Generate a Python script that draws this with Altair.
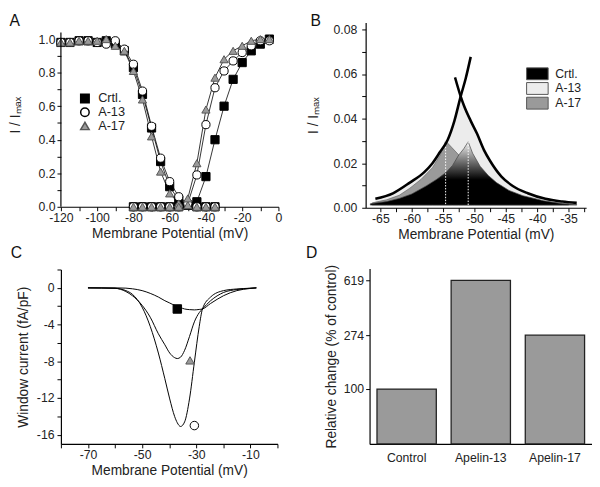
import altair as alt
import pandas as pd

FONT = "Liberation Sans"
SERIES = ["Crtl.", "A-13", "A-17"]

# ---------------- Panel A : steady-state activation / inactivation ----------------
a_v_inact = [-120, -115, -110, -105, -100, -95, -90, -85, -80, -75, -70, -65, -60, -55, -50, -45, -40, -35]
a_crtl_inact = [0.98, 0.98, 0.99, 0.99, 0.98, 0.99, 0.97, 0.93, 0.83, 0.67, 0.47, 0.27, 0.12, 0.04, 0.01, 0.0, 0.0, 0.0]
a_a13_inact = [0.98, 0.98, 0.99, 0.99, 0.98, 0.97, 0.99, 0.94, 0.85, 0.69, 0.48, 0.29, 0.15, 0.06, 0.02, 0.0, 0.0, 0.0]
a_a17_inact = [0.98, 0.98, 0.99, 0.99, 0.99, 1.0, 0.96, 0.93, 0.81, 0.64, 0.42, 0.21, 0.08, 0.02, 0.01, 0.0, 0.0, 0.0]
a_v_act = [-80, -75, -70, -65, -60, -55, -50, -45, -40, -35, -30, -25, -20, -15, -10, -5]
a_crtl_act = [0, 0, 0, 0, 0, 0, 0.01, 0.03, 0.18, 0.40, 0.60, 0.76, 0.86, 0.93, 0.97, 1.0]
a_a13_act = [0, 0, 0, 0, 0, 0, 0.02, 0.19, 0.49, 0.71, 0.81, 0.87, 0.92, 0.96, 0.99, 0.99]
a_a17_act = [0, 0, 0, 0, 0, 0, 0.05, 0.26, 0.58, 0.77, 0.88, 0.93, 0.96, 0.99, 1.0, 1.0]
a_axis_left = -120
a_axis_top = 1.04

# ---------------- Panel B : window region (zoomed) ----------------
b_act_v = [-65.8, -63, -60.3, -58, -56.7, -55.5, -54.3, -53.2, -52.2, -51.4, -50.6]
b_act_y = [0.004, 0.0065, 0.0113, 0.016, 0.020, 0.025, 0.0303, 0.039, 0.050, 0.058, 0.0677]
b_inact_v = [-53.1, -52.2, -51.7, -50.6, -49.6, -48.5, -47.5, -45.7, -43.9, -41.5, -38.7, -36, -33.7]
b_inact_y = [0.0585, 0.050, 0.046, 0.039, 0.0333, 0.026, 0.021, 0.014, 0.0098, 0.0065, 0.004, 0.0028, 0.0022]
b_a17_v = [-66.3, -64, -62, -60.3, -58.5, -56.7, -55.5, -54.6, -53.6, -52.5, -51.5, -50, -48, -45, -40, -35]
b_a17_y = [0.0022, 0.0036, 0.0056, 0.0088, 0.0128, 0.018, 0.0235, 0.030, 0.027, 0.0237, 0.019, 0.014, 0.010, 0.006, 0.003, 0.0018]
b_crtl_v = [-66.6, -64, -62, -60, -57.7, -56, -54.6, -53.5, -52.5, -51.7, -51.0, -50.3, -49.1, -47.8, -46.5, -44.5, -42.3, -39, -36, -33.7]
b_crtl_y = [0.0018, 0.0028, 0.0042, 0.0062, 0.0098, 0.0128, 0.0157, 0.019, 0.0237, 0.0265, 0.0296, 0.0245, 0.0186, 0.0145, 0.0113, 0.0078, 0.0054, 0.0032, 0.0018, 0.0014]
b_base = 0.0012
b_peak_v = [-54.6, -51.0]
b_peak_y = [0.030, 0.0296]
b_cross_v = -52.2

# ---------------- Panel C : window current ----------------
c_v = [-70, -60, -56, -53.6, -50, -47, -44, -41.6, -39.8, -38, -37, -35.8, -34.3, -32.5, -30.7, -28.9, -27.7, -24.7, -19.9, -15, -10.2, -7.8]
c_crtl = [0, 0, -0.03, -0.1, -0.3, -0.6, -1.0, -1.4, -1.65, -1.9, -2.0, -2.15, -2.3, -2.37, -2.4, -2.35, -2.3, -1.7, -0.85, -0.3, -0.07, 0]
c_a13 = [0, -0.05, -0.3, -0.7, -2.1, -4.2, -7.1, -9.9, -12.1, -14.0, -14.7, -15.1, -14.6, -12.1, -8.1, -4.2, -2.3, -1.0, -0.3, -0.12, -0.04, 0]
c_a17 = [0, -0.05, -0.4, -0.85, -1.9, -3.2, -5.0, -6.2, -7.1, -7.6, -7.7, -7.55, -6.8, -5.3, -3.7, -2.7, -2.3, -1.4, -0.5, -0.18, -0.05, 0]
c_mark_v = [-37.0, -30.7, -32.3]
c_mark_y = [-2.3, -15.0, -7.9]

# ---------------- Panel D : relative change ----------------
d_cat = ["Control", "Apelin-13", "Apelin-17"]
d_val = [100, 619, 274]
d_ticks = [100, 274, 619]

# =============================================================================
def label_every(step, fmt=None):
    cond = f"abs(datum.value/{step} - round(datum.value/{step})) < 1e-6"
    if fmt:
        return f"{cond} ? format(datum.value, '{fmt}') : ''"
    return f"{cond} ? '' + datum.value : ''"


def frange(a, b, s):
    out, k = [], 0
    while a + k * s <= b + 1e-9:
        out.append(round(a + k * s, 6))
        k += 1
    return out


def letter(t, offset, dx):
    return alt.TitleParams(t, anchor="start", fontSize=16, fontWeight="normal", font=FONT,
                           offset=offset, dx=dx, color="#111111")


marker_shapes = ["square", "circle", "triangle-up"]
marker_fill = ["black", "white", "#9a9a9a"]
marker_stroke = ["black", "black", "#555555"]
LAB = 12.5
TIT = 14

# ---- A ----
rows = []
for s, yi, ya in zip(SERIES, [a_crtl_inact, a_a13_inact, a_a17_inact], [a_crtl_act, a_a13_act, a_a17_act]):
    for v, y in zip(a_v_inact, yi):
        rows.append(dict(series=s, kind="inact", v=v, y=y))
    for v, y in zip(a_v_act, ya):
        rows.append(dict(series=s, kind="act", v=v, y=y))
dfA = pd.DataFrame(rows)

scAx = alt.Scale(domain=[-120, 0], nice=False)
scAy = alt.Scale(domain=[0, 1.0985], nice=False)
xA = alt.X("v:Q", scale=scAx,
           axis=alt.Axis(values=frange(-120, 0, 10), labelExpr=label_every(20), labelOverlap=False,
                         labelFlush=False, title="Membrane Potential (mV)"))
yA = alt.Y("y:Q", scale=scAy,
           axis=alt.Axis(values=frange(0, 1.0, 0.1), labelExpr=label_every(0.2, ".1f"), title="I / Iₘₐₓ",
                         labelOverlap=False, labelPadding=2, titlePadding=16, domain=False))
legA = alt.Legend(orient="none", legendX=18, legendY=71, title=None, symbolSize=75, labelFontSize=13,
                  rowPadding=-1, labelOffset=7, padding=0)
dfA_axis = pd.DataFrame({"v": [a_axis_left], "y": [0.0], "ytop": [a_axis_top]})
axisA = alt.Chart(dfA_axis).mark_rule(color="black", strokeWidth=1.2).encode(x=xA, y=yA, y2="ytop:Q")
linesA = alt.Chart(dfA).mark_line(color="black", strokeWidth=0.8).encode(
    x=xA, y=yA, detail=["series:N", "kind:N"])
ptsA = alt.Chart(dfA).mark_point(filled=True, opacity=1, strokeWidth=1, size=70).encode(
    x=xA, y=yA,
    shape=alt.Shape("series:N", scale=alt.Scale(domain=SERIES, range=marker_shapes), legend=legA),
    fill=alt.Fill("series:N", scale=alt.Scale(domain=SERIES, range=marker_fill), legend=legA),
    stroke=alt.Stroke("series:N", scale=alt.Scale(domain=SERIES, range=marker_stroke), legend=legA),
)
chartA = alt.layer(linesA, ptsA, axisA).properties(width=222, height=188, title=letter("A", -6, 1))

# ---- B ----
dfB_act = pd.DataFrame(dict(v=b_act_v, y=b_act_y, kind="act"))
dfB_inact = pd.DataFrame(dict(v=b_inact_v, y=b_inact_y, kind="inact"))
dfB_lines = pd.concat([dfB_act, dfB_inact])
a13_v = [v for v in b_act_v if v <= b_cross_v] + [v for v in b_inact_v if v > b_cross_v]
a13_y = [y for v, y in zip(b_act_v, b_act_y) if v <= b_cross_v] + [y for v, y in zip(b_inact_v, b_inact_y) if v > b_cross_v]
dfB_a13 = pd.DataFrame(dict(v=a13_v, y=a13_y, series="A-13", base=b_base))
dfB_a17 = pd.DataFrame(dict(v=b_a17_v, y=b_a17_y, series="A-17", base=b_base))
dfB_crtl = pd.DataFrame(dict(v=b_crtl_v, y=b_crtl_y, series="Crtl.", base=b_base))
dfB_peak = pd.DataFrame(dict(v=b_peak_v, y=b_peak_y, base=b_base))

xB = alt.X("v:Q", scale=alt.Scale(domain=[-67.35, -32.2], nice=False),
           axis=alt.Axis(values=frange(-65, -32.5, 2.5), labelExpr=label_every(5), labelOverlap=False,
                         labelFlush=False, title="Membrane Potential (mV)"))
yB = alt.Y("y:Q", scale=alt.Scale(domain=[0, 0.0831], nice=False),
           axis=alt.Axis(values=frange(0, 0.08, 0.01), labelExpr=label_every(0.02, ".2f"), title="I / Iₘₐₓ",
                         labelOverlap=False, labelPadding=5, titlePadding=13))
fillB = alt.Fill("series:N", scale=alt.Scale(domain=SERIES, range=["black", "#ececec", "#9a9a9a"]),
                 legend=alt.Legend(orient="none", legendX=169, legendY=46, title=None,
                                   symbolType="M-2,-1.1H2V1.1H-2Z", symbolSize=121,
                                   symbolStrokeColor="#555555", symbolStrokeWidth=1,
                                   labelFontSize=12.5, rowPadding=-3, labelOffset=12, padding=0))
grad = alt.Gradient(gradient="linear", x1=0, x2=0, y1=1, y2=0,
                    stops=[alt.GradientStop(color="black", offset=0),
                           alt.GradientStop(color="black", offset=0.4),
                           alt.GradientStop(color="#6e6e6e", offset=0.68),
                           alt.GradientStop(color="#f4f4f4", offset=1)])
areaA13 = alt.Chart(dfB_a13).mark_area(interpolate="linear").encode(x=xB, y=yB, y2="base:Q", fill=fillB)
areaA17 = alt.Chart(dfB_a17).mark_area(interpolate="linear", stroke="#555555", strokeWidth=0.6).encode(
    x=xB, y=yB, y2="base:Q", fill=fillB)
areaCrtl = alt.Chart(dfB_crtl).mark_area(interpolate="linear", fill=grad, stroke="#444444", strokeWidth=0.7).encode(
    x=xB, y=yB, y2="base:Q")
dots = alt.Chart(dfB_peak).mark_rule(color="white", strokeDash=[1.5, 1.5], strokeWidth=1).encode(
    x=xB, y=yB, y2="base:Q")
thick = alt.Chart(dfB_lines).mark_line(color="black", strokeWidth=2.6, interpolate="monotone").encode(
    x=xB, y=yB, detail="kind:N")
chartB = alt.layer(areaA13, areaA17, areaCrtl, dots, thick).properties(
    width=225, height=189, title=letter("B", -6, 4))

# ---- C ----
rowsC = []
for s, ys in zip(SERIES, [c_crtl, c_a13, c_a17]):
    for v, y in zip(c_v, ys):
        rowsC.append(dict(series=s, v=v, y=y))
dfC = pd.DataFrame(rowsC)
dfCm = pd.DataFrame(dict(series=SERIES, v=c_mark_v, y=c_mark_y))
xC = alt.X("v:Q", scale=alt.Scale(domain=[-80, 0], nice=False),
           axis=alt.Axis(values=frange(-80, 0, 10), labelExpr="(datum.value + 70) % 20 == 0 ? '' + datum.value : ''",
                         labelOverlap=False, labelFlush=False, title="Membrane Potential (mV)"))
yC = alt.Y("y:Q", scale=alt.Scale(domain=[-17, 2], nice=False),
           axis=alt.Axis(values=frange(-16, 2, 2), labelExpr=label_every(4), title="Window current (fA/pF)",
                         labelOverlap=False, labelPadding=3, titlePadding=6))
linesC = alt.Chart(dfC).mark_line(color="black", strokeWidth=1, interpolate="monotone").encode(
    x=xC, y=yC, detail="series:N")
ptsC = alt.Chart(dfCm).mark_point(filled=True, opacity=1, strokeWidth=1, size=75).encode(
    x=xC, y=yC,
    shape=alt.Shape("series:N", scale=alt.Scale(domain=SERIES, range=marker_shapes), legend=None),
    fill=alt.Fill("series:N", scale=alt.Scale(domain=SERIES, range=marker_fill), legend=None),
    stroke=alt.Stroke("series:N", scale=alt.Scale(domain=SERIES, range=marker_stroke), legend=None),
)
chartC = alt.layer(linesC, ptsC).properties(width=221, height=178, title=letter("C", 3, -6))

# ---- D ----
dfD = pd.DataFrame(dict(cat=d_cat, val=d_val))
chartD = alt.Chart(dfD).mark_bar(color="#9a9a9a", stroke="#222222", strokeWidth=1.3).encode(
    x=alt.X("cat:N", sort=d_cat, scale=alt.Scale(paddingInner=0.2, paddingOuter=0.1),
            axis=alt.Axis(title=None, ticks=False, labelAngle=0, labelPadding=8)),
    y=alt.Y("val:Q", scale=alt.Scale(domain=[0, 100, 274, 619, 694], range=[179, 123, 68, 12, 0], nice=False, zero=False),
            axis=alt.Axis(values=d_ticks, title="Relative change (% of control)", labelPadding=2, titlePadding=5)),
).properties(width=227, height=179, title=letter("D", 3, -19))

chart = alt.concat(chartA, chartB, chartC, chartD, columns=2, align="none",
                   spacing=alt.RowColnumber(row=3, column=24)).resolve_scale(
    fill="independent", shape="independent", stroke="independent").properties(padding=0).configure_view(
    stroke=None).configure_axis(
    grid=False, domainColor="black", domainWidth=1.2, tickColor="black", tickSize=4, tickWidth=1,
    labelFont=FONT, labelFontSize=LAB, labelColor="#222222", titleFont=FONT, titleFontSize=TIT,
    titleFontWeight="normal", titleColor="#222222", labelOverlap=False).configure_axisX(
    labelPadding=1, titlePadding=3).configure_legend(
    labelFont=FONT, labelColor="#222222")

chart.save("out.html", embed_options={"renderer": "svg", "actions": False})
